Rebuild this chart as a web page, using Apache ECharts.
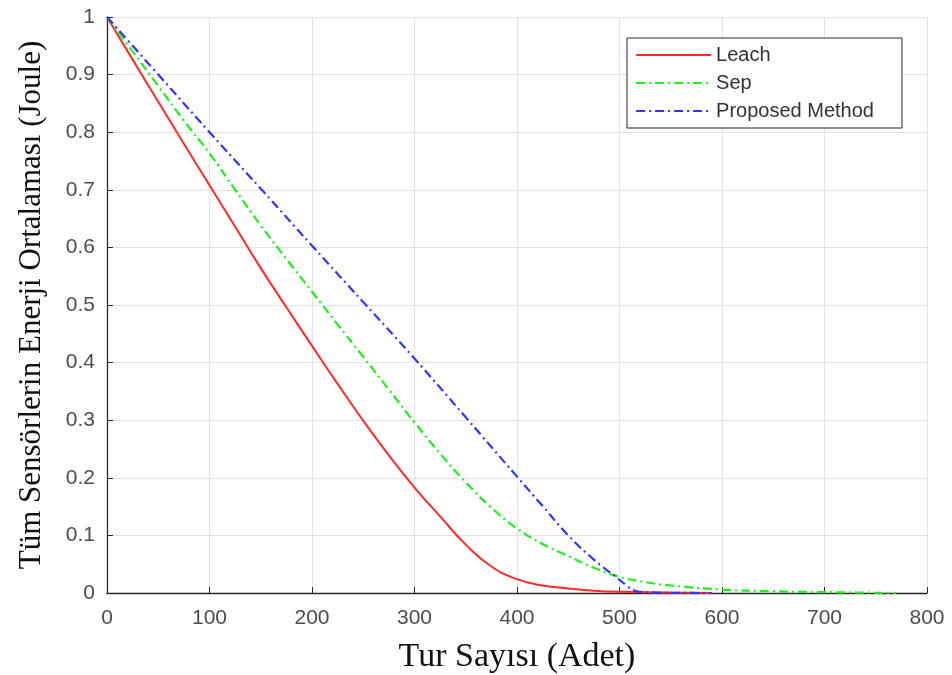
<!DOCTYPE html>
<html>
<head>
<meta charset="utf-8">
<script src="https://cdn.jsdelivr.net/npm/echarts@6/dist/echarts.min.js"></script>
<style>
  html, body { margin: 0; padding: 0; background: #fff; overflow: hidden; }
  #chart { width: 952px; height: 675px; }
</style>
</head>
<body>
<div id="chart"></div>
<script>
// Average remaining energy of all sensors per round
const leachX = [0, 25, 50, 75, 100, 125, 150, 175, 200, 225, 250, 275, 300, 325, 350, 375, 400, 425, 450, 475, 500, 550, 590];
const leachY = [1, 0.926, 0.853, 0.78, 0.708, 0.636, 0.564, 0.496, 0.429, 0.363, 0.299, 0.239, 0.183, 0.133, 0.084, 0.046, 0.024, 0.013, 0.008, 0.004, 0.002, 0.0008, 0];

const sepX = [0, 25, 50, 75, 100, 125, 150, 175, 200, 225, 250, 275, 300, 325, 350, 375, 400, 425, 450, 475, 500, 525, 550, 600, 650, 700, 770];
const sepY = [1, 0.94, 0.88, 0.82, 0.763, 0.70, 0.638, 0.58, 0.523, 0.466, 0.41, 0.353, 0.296, 0.242, 0.192, 0.148, 0.112, 0.085, 0.064, 0.044, 0.028, 0.019, 0.013, 0.006, 0.003, 0.0015, 0];

const propX = [0, 50, 100, 150, 200, 250, 300, 350, 400, 425, 450, 475, 497, 507, 515, 530, 560, 590];
const propY = [1, 0.9, 0.8, 0.702, 0.603, 0.505, 0.407, 0.305, 0.202, 0.151, 0.10, 0.058, 0.027, 0.013, 0.004, 0.0008, 0.0002, 0];

const seriesNames = ['Leach', 'Sep', 'Proposed Method'];
const xTicks = [0, 100, 200, 300, 400, 500, 600, 700, 800];
const yTicks = [0, 0.1, 0.2, 0.3, 0.4, 0.5, 0.6, 0.7, 0.8, 0.9, 1];

const pairs = (xs, ys) => xs.map((x, i) => [x, ys[i]]);

const chart = echarts.init(document.getElementById('chart'), null, { renderer: 'canvas' });

const tickFont = { fontFamily: 'Liberation Sans, Arial, sans-serif', fontSize: 21, color: '#4d4d4d' };
const serif = 'Liberation Serif, Times New Roman, serif';
const dashDot = [9, 4, 2, 4];

chart.setOption({
  animation: false,
  grid: { left: 107, right: 25, top: 17, bottom: 82, containLabel: false, outerBoundsMode: 'none' },
  legend: {
    data: seriesNames,
    orient: 'vertical',
    left: 627,
    top: 38,
    padding: [7, 28, 7, 8],
    itemGap: 8,
    itemWidth: 75,
    itemHeight: 14,
    itemTextGap: 6,
    // line sample only, no marker dot
    itemStyle: { opacity: 0 },
    lineStyle: { width: 2.2 },
    borderColor: '#262626',
    borderWidth: 1,
    borderRadius: 0,
    backgroundColor: '#fff',
    textStyle: { fontFamily: 'Liberation Sans, Arial, sans-serif', fontSize: 20, color: '#333' }
  },
  xAxis: {
    type: 'value',
    min: 0, max: 800, interval: 100,
    name: 'Tur Sayısı (Adet)',
    nameLocation: 'middle',
    nameGap: 47,
    nameTextStyle: { fontFamily: serif, fontSize: 34, color: '#111' },
    axisLine: { show: true, lineStyle: { color: '#262626', width: 1.3 } },
    axisTick: { show: true, inside: true, length: 6, lineStyle: { color: '#262626' } },
    axisLabel: Object.assign({ margin: 15, formatter: v => xTicks.includes(v) ? String(v) : '' }, tickFont),
    splitLine: { show: true, lineStyle: { color: '#e3e3e3', width: 1 } }
  },
  yAxis: {
    type: 'value',
    min: 0, max: 1, interval: 0.1,
    name: 'Tüm Sensörlerin Enerji Ortalaması (Joule)',
    nameLocation: 'middle',
    nameGap: 60,
    nameTextStyle: { fontFamily: serif, fontSize: 31, color: '#111' },
    axisLine: { show: true, lineStyle: { color: '#262626', width: 1.3 } },
    axisTick: { show: true, inside: true, length: 6, lineStyle: { color: '#262626' } },
    axisLabel: Object.assign({ margin: 12, formatter: v => {
      const t = yTicks.find(y => Math.abs(y - v) < 1e-9);
      return t === undefined ? '' : String(t);
    } }, tickFont),
    splitLine: { show: true, lineStyle: { color: '#e3e3e3', width: 1 } }
  },
  series: [
    {
      name: seriesNames[0], type: 'line', data: pairs(leachX, leachY),
      showSymbol: false, symbol: 'none', smooth: 0.5,
      lineStyle: { color: '#ff2a2a', width: 2 },
      itemStyle: { color: '#ff2a2a' }
    },
    {
      name: seriesNames[1], type: 'line', data: pairs(sepX, sepY),
      showSymbol: false, symbol: 'none', smooth: 0.5,
      lineStyle: { color: '#22ee22', width: 2.2, type: dashDot },
      itemStyle: { color: '#22ee22' }
    },
    {
      name: seriesNames[2], type: 'line', data: pairs(propX, propY),
      showSymbol: false, symbol: 'none', smooth: 0.5,
      lineStyle: { color: '#3333ff', width: 2.2, type: dashDot },
      itemStyle: { color: '#3333ff' }
    }
  ]
});
</script>
</body>
</html>
